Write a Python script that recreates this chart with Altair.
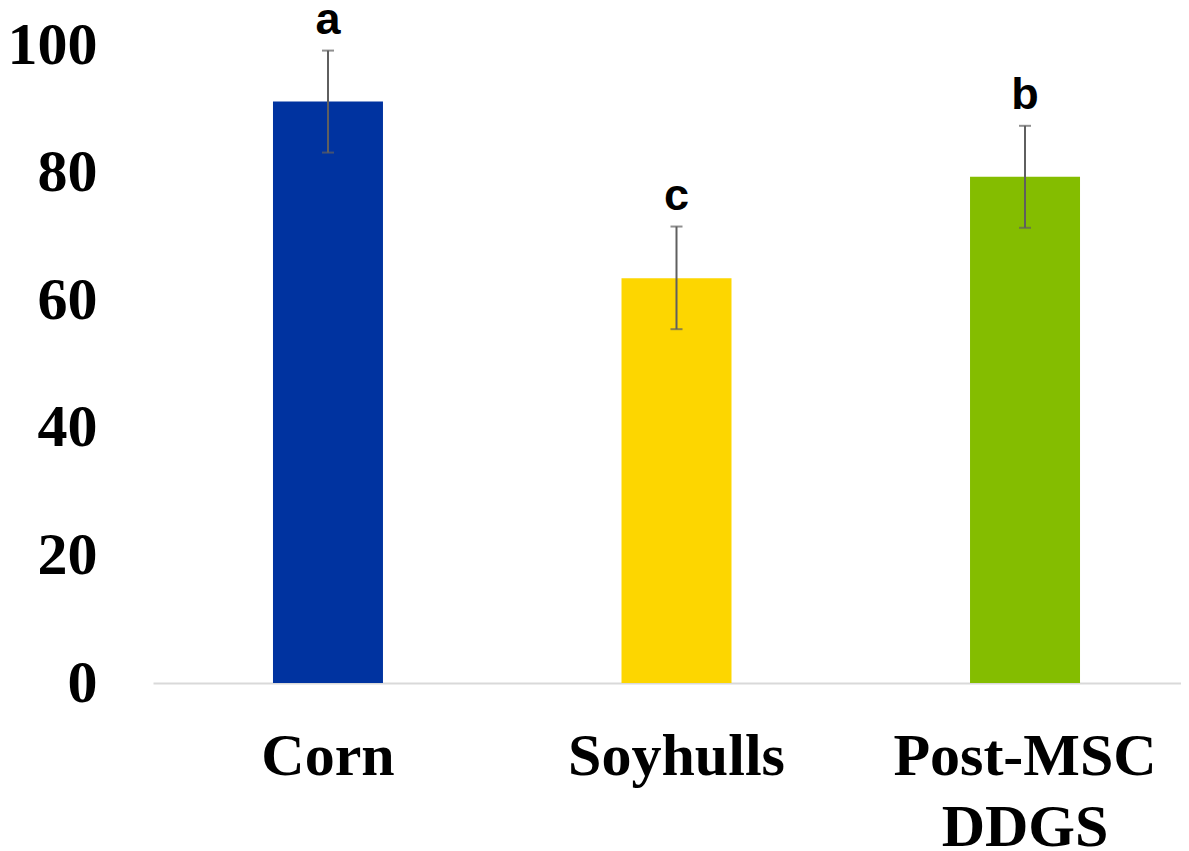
import altair as alt
import pandas as pd

categories = ["Corn", "Soyhulls", "Post-MSC DDGS"]
means = [91.2, 63.5, 79.4]
err_low = [83.2, 55.5, 71.4]
err_high = [99.2, 71.6, 87.4]
letters = ["a", "c", "b"]
colors = ["#0033A0", "#FDD600", "#84BD00"]
y_ticks = [0, 20, 40, 60, 80, 100]

df = pd.DataFrame({
    "cat": categories,
    "mean": means,
    "lo": err_low,
    "hi": err_high,
    "letter": letters,
})

x = alt.X(
    "cat:N",
    sort=categories,
    title=None,
    scale=alt.Scale(paddingInner=0.6844, paddingOuter=0.317, align=0.543),
    axis=alt.Axis(
        labelAngle=0,
        labelFont="Liberation Serif",
        labelFontWeight="bold",
        labelFontSize=60,
        labelColor="black",
        labelPadding=44,
        labelLineHeight=71,
        labelLimit=0,
        labelExpr="split(datum.label, ' ')",
        ticks=False,
        tickSize=0,
        domainColor="#D9D9D9",
        domainWidth=2,
        grid=False,
    ),
)

yscale = alt.Scale(domain=[0, 104.31], nice=False, zero=True)

bars = alt.Chart(df).mark_bar().encode(
    x=x,
    y=alt.Y(
        "mean:Q",
        scale=yscale,
        title=None,
        axis=alt.Axis(
            values=y_ticks,
            labelFont="Liberation Serif",
            labelFontWeight="bold",
            labelFontSize=60,
            labelColor="black",
            labelPadding=56,
            labelLimit=0,
            ticks=False,
            tickSize=0,
            domain=False,
            grid=False,
        ),
    ),
    color=alt.Color("cat:N", scale=alt.Scale(domain=categories, range=colors), legend=None),
)

rules = alt.Chart(df).mark_rule(color="#5F5F5F", strokeWidth=2).encode(
    x=alt.X("cat:N", sort=categories),
    y=alt.Y("lo:Q", scale=yscale),
    y2="hi:Q",
)

cap_hi = alt.Chart(df).mark_tick(color="#5F5F5F", size=12, thickness=2).encode(
    x=alt.X("cat:N", sort=categories),
    y=alt.Y("hi:Q", scale=yscale),
)
cap_lo = alt.Chart(df).mark_tick(color="#5F5F5F", size=12, thickness=2).encode(
    x=alt.X("cat:N", sort=categories),
    y=alt.Y("lo:Q", scale=yscale),
)

text = alt.Chart(df).mark_text(
    font="Liberation Sans", fontWeight="bold", fontSize=45, color="black",
    baseline="alphabetic", dy=-17,
).encode(
    x=alt.X("cat:N", sort=categories),
    y=alt.Y("hi:Q", scale=yscale),
    text="letter:N",
)

chart = alt.layer(bars, rules, cap_hi, cap_lo, text).properties(
    width=1028,
    height=665,
    background="white",
    autosize=alt.AutoSizeParams(type="none"),
    padding={"left": 145, "top": 10, "right": 0, "bottom": 168},
).configure_view(stroke=None, strokeWidth=0)

chart.save("out.html", embed_options={"renderer": "svg", "actions": False})
